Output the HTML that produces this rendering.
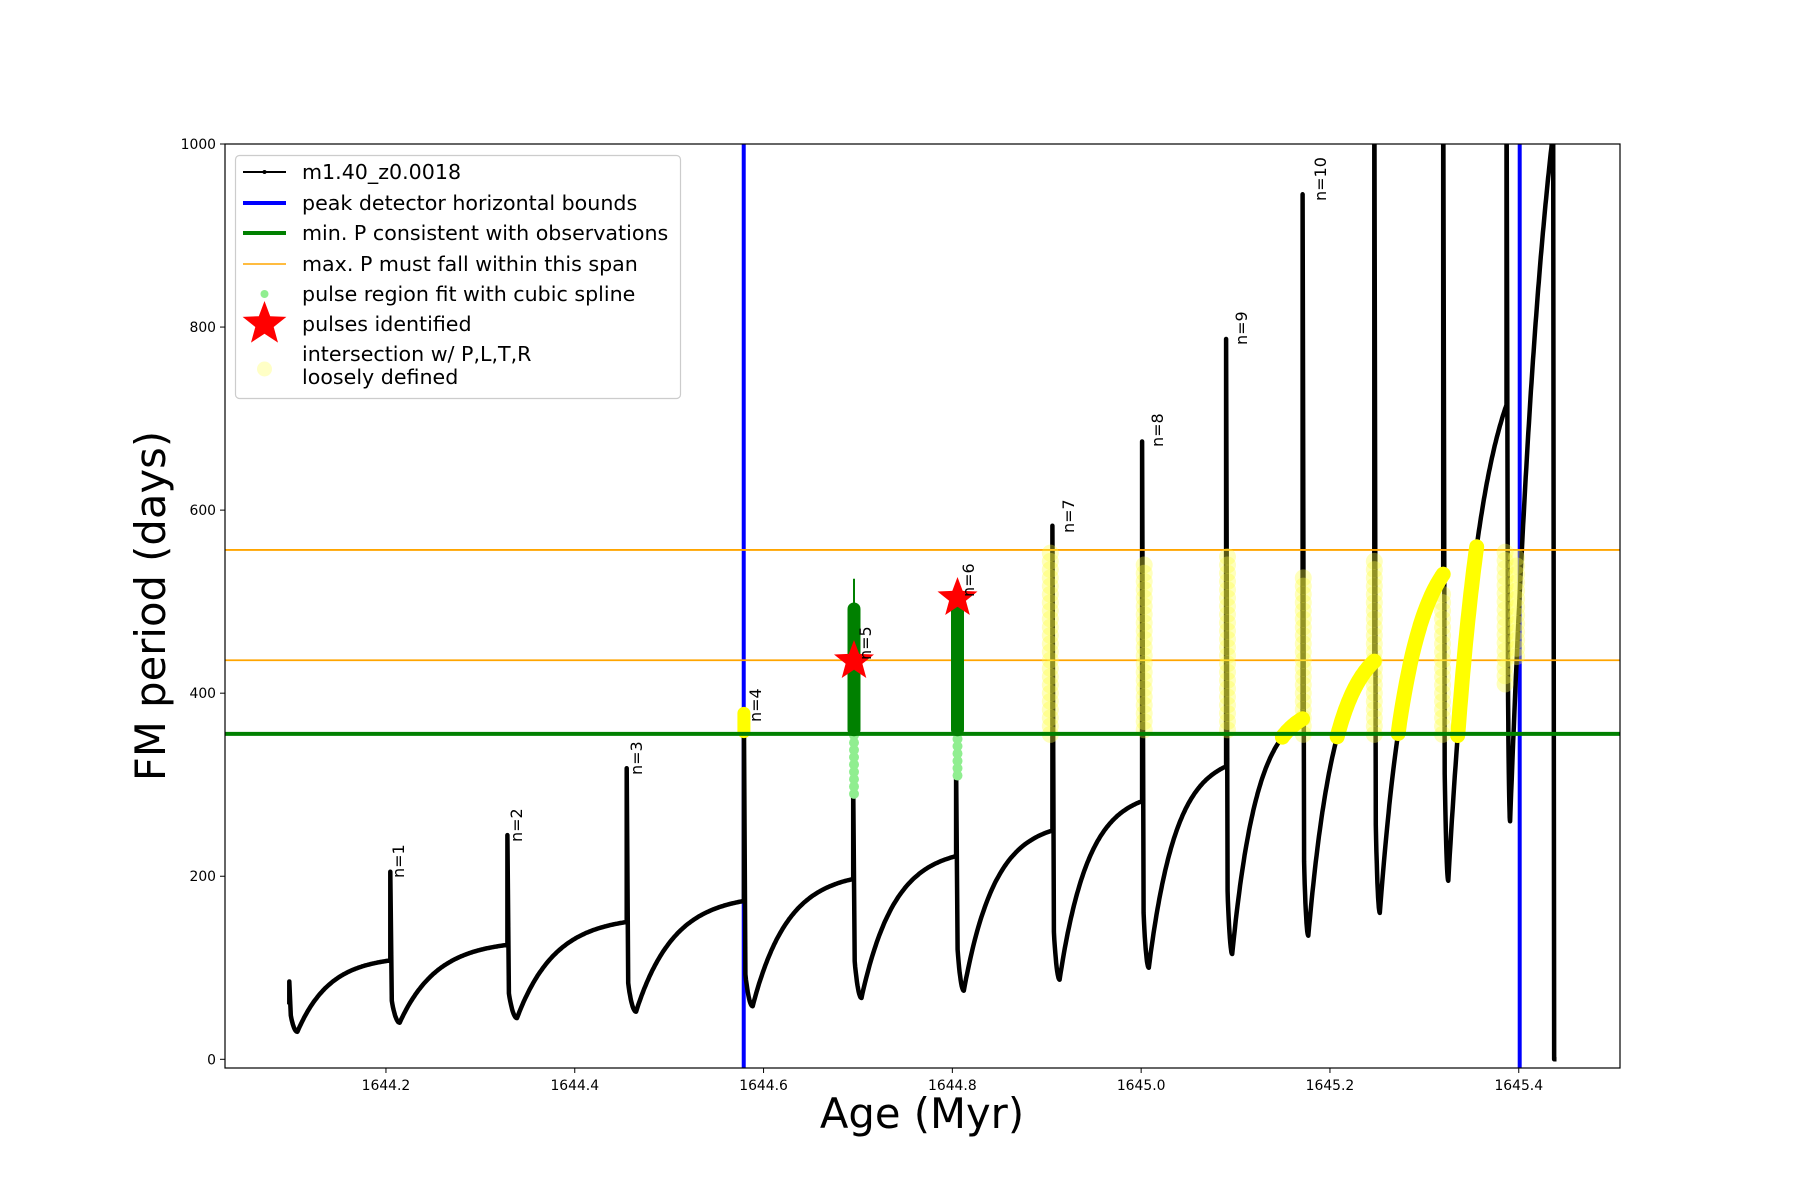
<!DOCTYPE html>
<html><head><meta charset="utf-8">
<style>
html,body{margin:0;padding:0;background:#fff;}
svg{display:block;font-family:"DejaVu Sans","Liberation Sans",sans-serif;}
</style></head>
<body>
<svg id="s" width="1800" height="1200" viewBox="0 0 1800 1200" xmlns="http://www.w3.org/2000/svg">
<defs><clipPath id="c"><rect x="225" y="144" width="1395" height="924"/></clipPath></defs>
<rect width="1800" height="1200" fill="#fff"/>
<g id="plot" clip-path="url(#c)"></g>
<rect x="225" y="144" width="1395" height="924" fill="none" stroke="#000" stroke-width="1.2"/>
<g id="ticks" font-size="13.9" fill="#000"></g>
<text x="922" y="1128" font-size="41.7" text-anchor="middle">Age (Myr)</text>
<text transform="translate(165,606) rotate(-90)" font-size="41.7" text-anchor="middle">FM period (days)</text>
<!-- legend -->
<rect x="235.5" y="155.5" width="445" height="243" rx="4" fill="#fff" fill-opacity="0.8" stroke="#ccc" stroke-width="1.2"/>
<line x1="243" y1="172" x2="286" y2="172" stroke="#000" stroke-width="2"/>
<circle cx="264.5" cy="172" r="2" fill="#000"/>
<line x1="243" y1="203" x2="286" y2="203" stroke="#0000ff" stroke-width="4"/>
<line x1="243" y1="233" x2="286" y2="233" stroke="#008000" stroke-width="4"/>
<line x1="243" y1="264" x2="286" y2="264" stroke="#ffa500" stroke-width="1.5"/>
<circle cx="264.5" cy="294" r="4" fill="#90ee90"/>
<polygon id="lstar" fill="#ff0000"/>
<circle cx="264.5" cy="369" r="7.5" fill="#ffff80" fill-opacity="0.45"/>
<g font-size="20.6" fill="#000">
<text x="302" y="179">m1.40_z0.0018</text>
<text x="302" y="210">peak detector horizontal bounds</text>
<text x="302" y="240">min. P consistent with observations</text>
<text x="302" y="271">max. P must fall within this span</text>
<text x="302" y="301">pulse region fit with cubic spline</text>
<text x="302" y="331">pulses identified</text>
<text x="302" y="361">intersection w/ P,L,T,R</text>
<text x="302" y="384">loosely defined</text>
</g>
<g id="labs" font-size="16" fill="#000">
<text transform="translate(404,878) rotate(-90)">n=1</text>
<text transform="translate(522,842) rotate(-90)">n=2</text>
<text transform="translate(642,775) rotate(-90)">n=3</text>
<text transform="translate(761,722) rotate(-90)">n=4</text>
<text transform="translate(871,660) rotate(-90)">n=5</text>
<text transform="translate(974,597) rotate(-90)">n=6</text>
<text transform="translate(1074,533) rotate(-90)">n=7</text>
<text transform="translate(1163,447) rotate(-90)">n=8</text>
<text transform="translate(1247,345) rotate(-90)">n=9</text>
<text transform="translate(1326,201) rotate(-90)">n=10</text>
</g>
</svg>
<script>
const NS="http://www.w3.org/2000/svg";
const X=a=>225+(a-1644.0295)*944, Y=p=>1059.3-p*0.9153;
const plot=document.getElementById('plot'), ticks=document.getElementById('ticks');
function el(t,a,p){const e=document.createElementNS(NS,t);for(const k in a)e.setAttribute(k,a[k]);(p||plot).appendChild(e);return e;}
function star(cx,cy,R){let r=R*0.42,pts=[];for(let i=0;i<10;i++){const rr=i%2?r:R,an=-Math.PI/2+i*Math.PI/5;pts.push((cx+rr*Math.cos(an)).toFixed(1)+','+(cy+rr*Math.sin(an)).toFixed(1));}return pts.join(' ');}
document.getElementById('lstar').setAttribute('points',star(264.5,324,23));
for(let v=0;v<=1000;v+=200){const y=Y(v);el('line',{x1:225,x2:220,y1:y,y2:y,stroke:'#000','stroke-width':1},ticks);el('text',{x:216,y:y+5,'text-anchor':'end'},ticks).textContent=v;}
[1644.2,1644.4,1644.6,1644.8,1645.0,1645.2,1645.4].forEach(v=>{const x=X(v);el('line',{x1:x,x2:x,y1:1068,y2:1073,stroke:'#000','stroke-width':1},ticks);el('text',{x:x,y:1090,'text-anchor':'middle'},ticks).textContent=v.toFixed(1);});
const C=[[1644.0976,85,30,108,0.35],[1644.2046,205,40,125,0.35],[1644.3287,245,45,150,0.35],[1644.455,318,52,173,0.35],[1644.5792,375,58,197,0.35],[1644.695,300,67,222,0.35],[1644.804,320,75,250,0.35],[1644.906,583,87,282,0.35],[1645.001,675,100,320,0.35],[1645.090,787,115,372,0.35],[1645.171,945,135,435,0.4],[1645.247,1100,160,530,0.45],[1645.320,1100,195,715,0.55],[1645.387,1100,260,1000,0.9]];
let d='',yel=[];
let prev=60;
for(let i=0;i<C.length;i++){
 const [t,pk,mn,e,tf]=C[i];const tn=i+1<C.length?C[i+1][0]:1645.435;const T=tn-t;
 const off=Math.min(0.012,0.08*T);
 d+=(i==0?'M':'L')+X(t).toFixed(1)+','+Y(prev).toFixed(1)+'L'+X(t).toFixed(1)+','+Y(pk).toFixed(1)+'L'+(X(t)+1.5).toFixed(1)+','+Y(mn*1.6).toFixed(1);
 const n1=12;for(let k=1;k<=n1;k++){const s=k/n1;const a=t+0.0015+(off-0.0015)*s;const v=mn+(mn*0.6)*(1-s)*(1-s);d+='L'+X(a).toFixed(1)+','+Y(v).toFixed(1);}
 const tau=tf*(T-off);const R=T-off;const den=1-Math.exp(-R/tau);let seg=[];
 for(let k=1;k<=80;k++){const s=k/80;const a=t+off+R*s;const v=mn+(e-mn)*(1-Math.exp(-R*s/tau))/den;d+='L'+X(a).toFixed(1)+','+Y(v).toFixed(1);
  if(i>=9&&i<=12&&v>=352&&v<=560)seg.push(X(a).toFixed(1)+','+Y(v).toFixed(1));}
 if(seg.length)yel.push(seg);
 prev=e;
}
d+='L'+X(1645.4365)+','+Y(1000)+'L'+X(1645.4375)+','+Y(0)+'L'+X(1645.44)+','+Y(0);
el('line',{x1:X(1644.579),x2:X(1644.579),y1:144,y2:1068,stroke:'#0000ff','stroke-width':4});
el('line',{x1:X(1645.401),x2:X(1645.401),y1:144,y2:1068,stroke:'#0000ff','stroke-width':4});
el('path',{d:d,fill:'none',stroke:'#000','stroke-width':4.5,'stroke-linejoin':'round'});
el('line',{x1:225,x2:1620,y1:Y(556.5),y2:Y(556.5),stroke:'#ffa500','stroke-width':1.8});
el('line',{x1:225,x2:1620,y1:Y(436),y2:Y(436),stroke:'#ffa500','stroke-width':1.8});
const strips=[[1644.906,355,555],[1645.001,360,540],[1645.090,360,552],[1645.171,355,530],[1645.247,355,545],[1645.320,355,510],[1645.387,410,555],[1645.400,440,555]];
strips.forEach(([t,a,b],j)=>{for(let v=a;v<=b;v+=9){const dx=((v*7+j*13)%7)-3;el('circle',{cx:X(t)+dx*0.7,cy:Y(v),r:8.5,fill:'#ffff40','fill-opacity':0.35});}});
yel.forEach(s=>el('polyline',{points:s.join(' '),fill:'none',stroke:'#ffff00','stroke-width':15,'stroke-linecap':'round','stroke-linejoin':'round'}));
el('line',{x1:X(1644.5792),x2:X(1644.5792),y1:Y(358),y2:Y(378),stroke:'#ffff00','stroke-width':13,'stroke-linecap':'round'});
el('line',{x1:854,x2:854,y1:Y(355),y2:Y(525),stroke:'#008000','stroke-width':2});
[[854,290],[957.5,310]].forEach(([x,lo])=>{for(let v=lo;v<355;v+=8)el('circle',{cx:x,cy:Y(v),r:5,fill:'#90ee90'});});
el('line',{x1:854,x2:854,y1:Y(360),y2:Y(492),stroke:'#008000','stroke-width':13,'stroke-linecap':'round'});
el('line',{x1:957.5,x2:957.5,y1:Y(360),y2:Y(492),stroke:'#008000','stroke-width':13,'stroke-linecap':'round'});
el('line',{x1:225,x2:1620,y1:Y(355.5),y2:Y(355.5),stroke:'#008000','stroke-width':4});
el('polygon',{points:star(854,661,21),fill:'#ff0000'});
el('polygon',{points:star(957.5,598,21),fill:'#ff0000'});
</script>
</body></html>
